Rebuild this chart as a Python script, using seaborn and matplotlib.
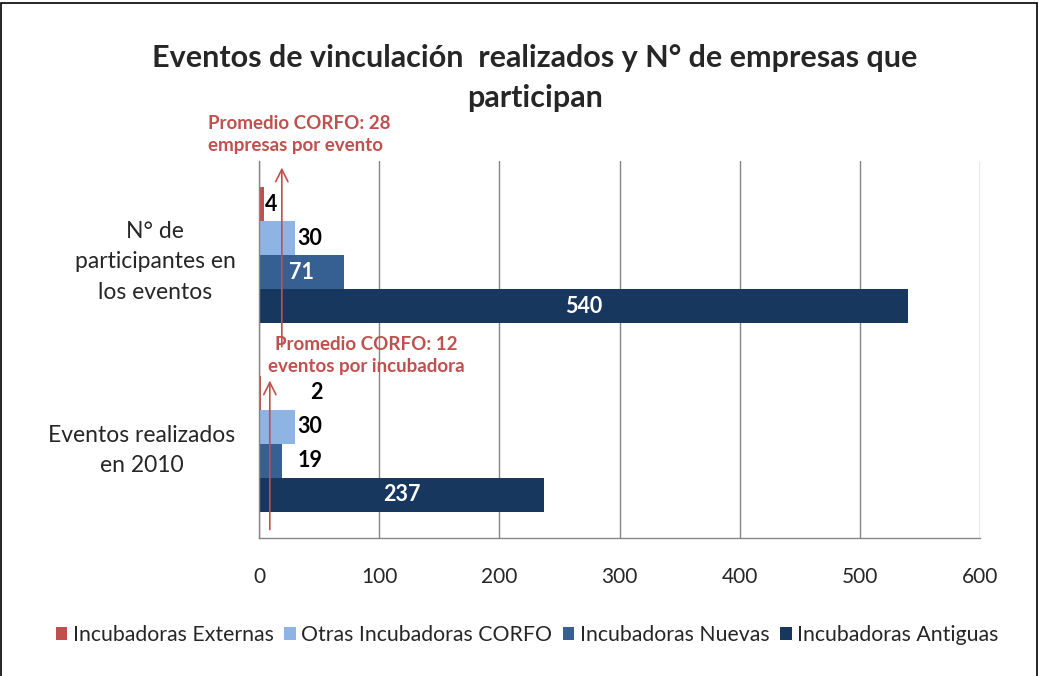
import matplotlib
matplotlib.use("Agg")
import matplotlib.pyplot as plt
import matplotlib.transforms as mtransforms
import seaborn as sns
import pandas as pd
from matplotlib.patches import Rectangle

categories = ["N° de\nparticipantes en\nlos eventos", "Eventos realizados\nen 2010"]
series = ["Incubadoras Externas", "Otras Incubadoras CORFO", "Incubadoras Nuevas", "Incubadoras Antiguas"]
externas = [4, 2]
otras = [30, 30]
nuevas = [71, 19]
antiguas = [540, 237]
x_ticks = [0, 100, 200, 300, 400, 500, 600]
avg_text_top = "Promedio CORFO: 28\nempresas por evento"
avg_text_bottom = "Promedio CORFO: 12\neventos por incubadora"
title = "Eventos de vinculación  realizados y N° de empresas que\nparticipan"

colors = ["#C0504D", "#8EB4E3", "#376092", "#17375E"]
red = "#C0504D"

values = [externas, otras, nuevas, antiguas]
rows = []
for s, vals in zip(series, values):
    for c, v in zip(categories, vals):
        rows.append({"cat": c, "serie": s, "val": v})
df = pd.DataFrame(rows)

sns.set_style("white")
plt.rcParams["font.family"] = ["Lato", "DejaVu Sans"]

fig = plt.figure(figsize=(10.39, 6.76), dpi=100)
ax = fig.add_axes([259/1039, 1-538/676, (980-259)/1039, (538-161)/676])

sns.barplot(data=df, y="cat", x="val", hue="serie", order=categories, hue_order=series,
            palette=colors, orient="h", width=0.72, gap=0, saturation=1, ax=ax,
            edgecolor="none", linewidth=0, legend=True)

ax.set_xlim(0, 600)
ax.set_ylim(1.5, -0.5)
ax.set_xticks(x_ticks)
ax.set_xticklabels([str(t) for t in x_ticks], fontsize=15)
ax.set_xlabel("")
ax.set_ylabel("")
ax.set_yticks([0, 1])
ax.set_yticklabels(categories, fontsize=16.5, multialignment="center", linespacing=1.55)
shift = mtransforms.ScaledTranslation(0, 5/72, fig.dpi_scale_trans)
for lbl in ax.get_yticklabels():
    lbl.set_transform(lbl.get_transform() + shift)
ax.tick_params(axis="y", which="major", length=0, pad=17)
ax.set_yticks([-0.5, 0.5, 1.5], minor=True)
ax.tick_params(axis="y", which="minor", length=5, color="#868686", width=1, direction="out")
ax.tick_params(axis="x", which="major", length=5, color="#868686", width=1, direction="out", pad=16)
ax.grid(axis="x", color="#868686", lw=1)
ax.set_axisbelow(True)
for sp in ["top", "right"]:
    ax.spines[sp].set_visible(False)
for sp in ["left", "bottom"]:
    ax.spines[sp].set_color("#868686")
    ax.spines[sp].set_linewidth(1)

# value labels
outside_pad = {(0, 0): 1, (0, 1): 35, (1, 0): 2, (1, 1): 2, (2, 1): 11}
for i, cont in enumerate(ax.containers):
    for j, bar in enumerate(cont):
        v = values[i][j]
        y = bar.get_y() + bar.get_height() / 2
        if v > 50:
            ax.text(bar.get_x() + bar.get_width() / 2, y, str(v), ha="center", va="center",
                    color="white", fontsize=15.5, fontweight="bold")
        else:
            ax.annotate(str(v), (bar.get_width(), y), xytext=(outside_pad.get((i, j), 3), 0),
                        textcoords="offset points", ha="left", va="center",
                        color="black", fontsize=15.5, fontweight="bold")

# average annotations
ax.annotate("", xy=(19, -0.48), xytext=(19, 0.5), xycoords="data",
            arrowprops=dict(arrowstyle="->", color=red, lw=1.2, mutation_scale=22),
            annotation_clip=False)
ax.annotate("", xy=(9, 0.65), xytext=(9, 1.47), xycoords="data",
            arrowprops=dict(arrowstyle="->", color=red, lw=1.2, mutation_scale=22),
            annotation_clip=False)
ax.text(-42.5, -0.64, avg_text_top, ha="left", va="center", color=red, fontsize=13.5,
        fontweight="bold", linespacing=1.35, clip_on=False)
ax.text(89, 0.53, avg_text_bottom, ha="center", va="center", color=red, fontsize=13.5,
        fontweight="bold", linespacing=1.35, clip_on=False)

# legend
handles, labels = ax.get_legend_handles_labels()
ax.get_legend().remove()
fig.legend(handles, labels, loc="center", bbox_to_anchor=(527/1039, 1-635/676), ncol=4,
           frameon=False, fontsize=15.3, handlelength=0.55, handleheight=0.55,
           handletextpad=0.25, columnspacing=0.5)

fig.text(535/1039, 1-78/676, title, ha="center", va="center", fontsize=22,
         fontweight="bold", linespacing=1.55)

fig.patches.append(Rectangle((0.5/1039, -0.01), 1036/1039, 1 - 3/676 + 0.01,
                             transform=fig.transFigure, fill=False, edgecolor="black",
                             lw=1.2))

fig.savefig("out.png", dpi=100)
